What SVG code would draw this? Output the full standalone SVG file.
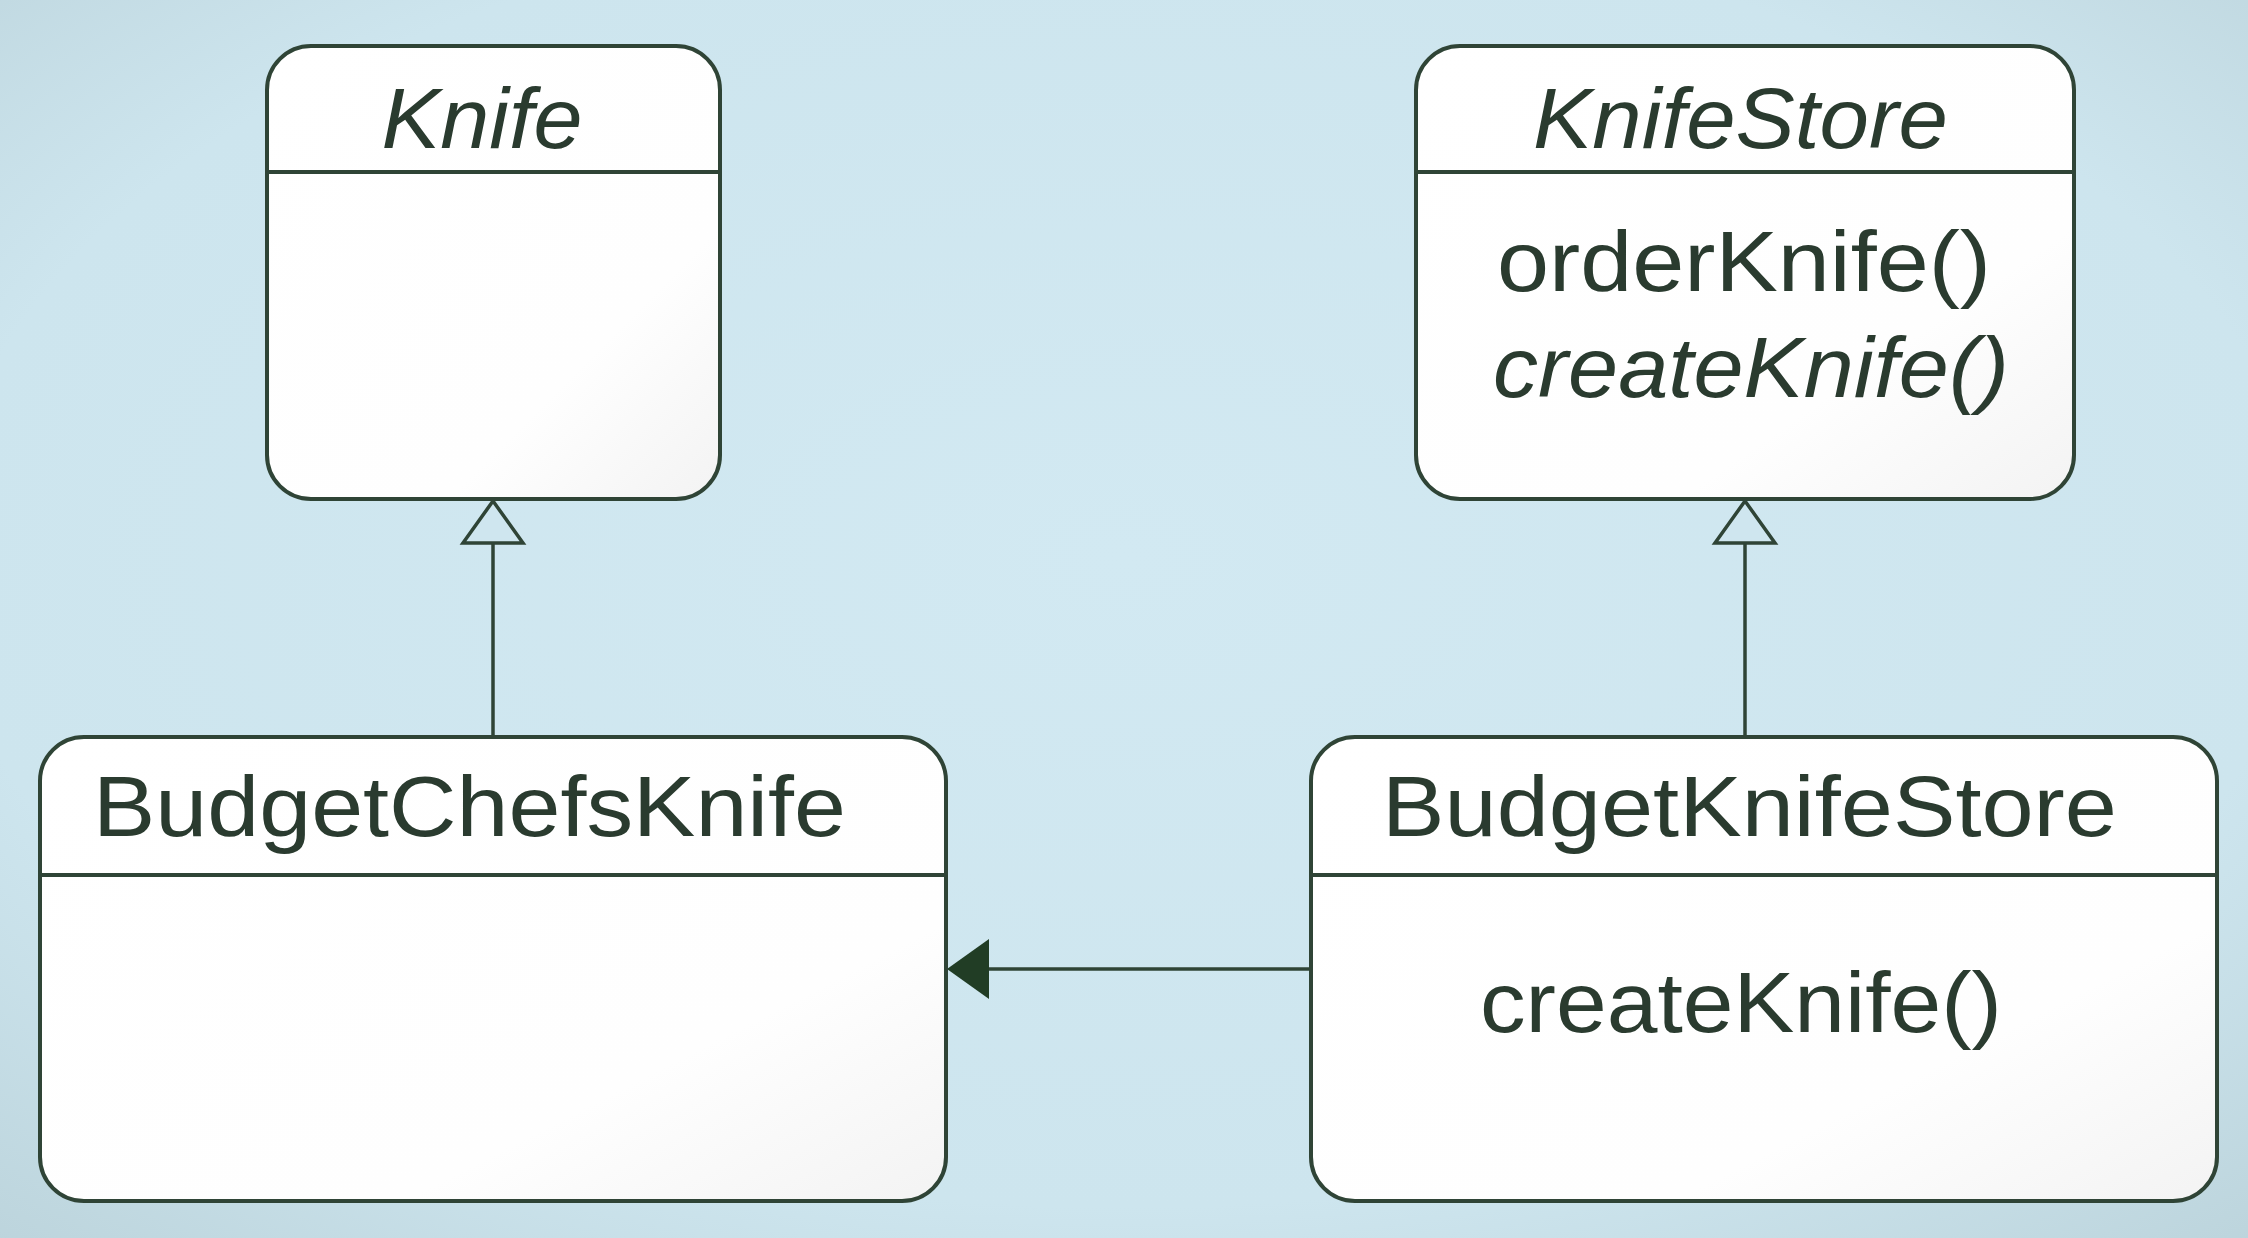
<svg xmlns="http://www.w3.org/2000/svg" width="2248" height="1238" viewBox="0 0 2248 1238">
<defs>
<radialGradient id="bg" cx="50%" cy="45%" r="75%">
<stop offset="0" stop-color="#d2e9f2"/>
<stop offset="0.7" stop-color="#cde5ee"/>
<stop offset="1" stop-color="#bcd4dc"/>
</radialGradient>
<linearGradient id="boxfill" x1="0" y1="0" x2="1" y2="1">
<stop offset="0" stop-color="#ffffff"/>
<stop offset="0.7" stop-color="#fefefe"/>
<stop offset="1" stop-color="#f3f3f3"/>
</linearGradient>
</defs>
<style>
.box{fill:url(#boxfill);stroke:#2f4436;stroke-width:4}
.div{stroke:#2f4436;stroke-width:4}
.t{font-family:"Liberation Sans",Arial,sans-serif;fill:#2a3b2f;font-size:86px}
.i{font-style:italic}
.c{stroke:#2f4436;stroke-width:3.5;fill:none}
.hollow{fill:#cfe6ef;stroke:#2f4436;stroke-width:3.5}
.filled{fill:#213d25}
</style>
<rect width="2248" height="1238" fill="url(#bg)"/>
<g id="connectors">
<line class="c" x1="493" y1="736" x2="493" y2="543"/>
<path class="hollow" d="M493 501 L523 543 L463 543 Z"/>
<line class="c" x1="1745" y1="736" x2="1745" y2="543"/>
<path class="hollow" d="M1745 501 L1775 543 L1715 543 Z"/>
<line class="c" x1="1311" y1="969" x2="985" y2="969"/>
<path class="filled" d="M947 969 L989 939 L989 999 Z"/>
</g>
<g id="knife">
<rect class="box" x="267" y="46" width="453" height="453" rx="44"/>
<line class="div" x1="267" y1="172" x2="720" y2="172"/>
<text class="t i" x="482" y="148" text-anchor="middle" textLength="201" lengthAdjust="spacingAndGlyphs">Knife</text>
</g>
<g id="knifestore">
<rect class="box" x="1416" y="46" width="658" height="453" rx="44"/>
<line class="div" x1="1416" y1="172" x2="2074" y2="172"/>
<text class="t i" x="1533" y="148" textLength="415" lengthAdjust="spacingAndGlyphs">KnifeStore</text>
<text class="t" x="1497" y="291" textLength="494" lengthAdjust="spacingAndGlyphs">orderKnife()</text>
<text class="t i" x="1493" y="397" textLength="516" lengthAdjust="spacingAndGlyphs">createKnife()</text>
</g>
<g id="budgetchefsknife">
<rect class="box" x="40" y="737" width="906" height="464" rx="44"/>
<line class="div" x1="40" y1="875" x2="946" y2="875"/>
<text class="t" x="93" y="836" textLength="753" lengthAdjust="spacingAndGlyphs">BudgetChefsKnife</text>
</g>
<g id="budgetknifestore">
<rect class="box" x="1311" y="737" width="906" height="464" rx="44"/>
<line class="div" x1="1311" y1="875" x2="2217" y2="875"/>
<text class="t" x="1382" y="836" textLength="735" lengthAdjust="spacingAndGlyphs">BudgetKnifeStore</text>
<text class="t" x="1480" y="1032" textLength="522" lengthAdjust="spacingAndGlyphs">createKnife()</text>
</g>
</svg>
